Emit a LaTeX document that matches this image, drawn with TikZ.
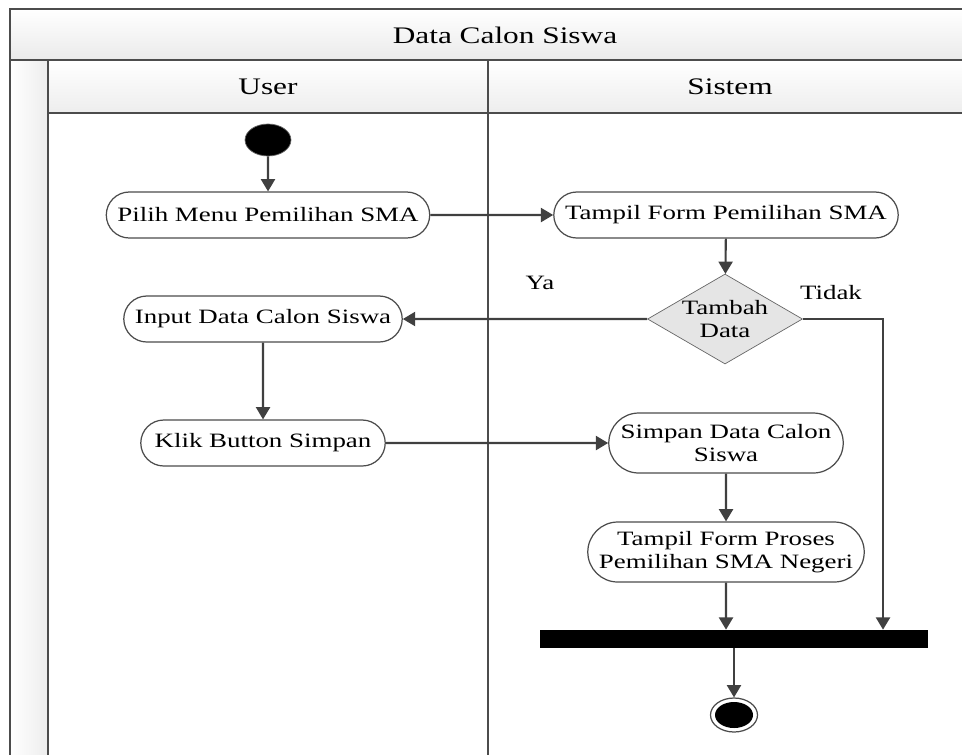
\documentclass[tikz,border=0pt]{standalone}
\usepackage{fontspec}
\setmainfont{Liberation Serif}[FakeStretch=1.32]
\usetikzlibrary{shapes.geometric,shapes.misc,arrows.meta}

\begin{document}
\begin{tikzpicture}[x=0.02cm, y=-0.02cm,
    lane/.style={draw=black!70, line width=1pt},
    act/.style={rounded rectangle, draw=black!70, line width=0.7pt, fill=white,
      minimum height=0.92cm, inner sep=1pt, align=center,
      font=\fontsize{11.6}{13}\selectfont},
    acttall/.style={act, minimum height=1.2cm},
    flow/.style={draw=black!75, line width=1.2pt, -{Triangle[length=7pt,width=8pt]}},
    hdr/.style={font=\fontsize{13.5}{15}\selectfont}]
  \useasboundingbox (0,0) rectangle (962,754);

  % Swimlane frame
  \shade[top color=white, bottom color=black!8] (10,9) rectangle (975,60);
  \shade[top color=white, bottom color=black!7] (48,60) rectangle (975,113);
  \shade[left color=white, right color=black!7] (10,60) rectangle (48,760);
  \draw[lane] (10,760) -- (10,9) -- (975,9);
  \draw[lane] (10,60) -- (975,60);
  \draw[lane] (48,113) -- (975,113);
  \draw[lane] (48,60) -- (48,760);
  \draw[lane] (488,60) -- (488,760);
  \node[hdr] (judul) at (505,35) {Data Calon Siswa};
  \node[hdr] (user) at (268,87) {User};
  \node[hdr] (sistem) at (730,87) {Sistem};

  % Activities
  \node[ellipse, fill=black, draw=black!60, minimum width=0.92cm, minimum height=0.64cm, inner sep=0] (mulai) at (268,140) {};
  \node[act, minimum width=6.54cm] (pilih) at (268,215) {Pilih Menu Pemilihan SMA};
  \node[act, minimum width=6.96cm] (tampil) at (726,215) {Tampil Form Pemilihan SMA};
  \node[diamond, draw=black!60, fill=black!10, aspect=1.72, minimum width=3.1cm, minimum height=1.8cm,
    inner sep=0, align=center, font=\fontsize{11.6}{13}\selectfont] (tambah) at (725,319) {Tambah\\Data};
  \node[act, minimum width=5.64cm] (input) at (263,319) {Input Data Calon Siswa};
  \node[act, minimum width=4.96cm] (klik) at (263,443) {Klik Button Simpan};
  \node[acttall, minimum width=4.76cm] (simpan) at (726,443) {Simpan Data Calon\\Siswa};
  \node[acttall, minimum width=5.6cm] (proses) at (726,552) {Tampil Form Proses\\Pemilihan SMA Negeri};
  \node[fill=black, minimum width=7.76cm, minimum height=0.36cm, inner sep=0] (gabung) at (734,639) {};
  \node[ellipse, draw=black!70, line width=0.7pt, fill=white, minimum width=0.94cm, minimum height=0.68cm, inner sep=0] (selesai) at (734,715) {};
  \fill[black] (selesai.center) ellipse (19 and 13);

  % Guard labels
  \node[font=\fontsize{11.6}{13}\selectfont] (ya) at (540,283) {Ya};
  \node[font=\fontsize{11.6}{13}\selectfont] (tidak) at (831,293) {Tidak};
  \coordinate (belok) at (883,319);

  % Flows
  \draw[flow] (mulai) -- (pilih);
  \draw[flow] (pilih) -- (tampil);
  \draw[flow] (tampil) -- (tambah);
  \draw[flow] (tambah) -- (input);
  \draw[flow] (input) -- (klik);
  \draw[flow] (klik) -- (simpan);
  \draw[flow] (simpan) -- (proses);
  \draw[flow] (proses) -- (proses |- gabung.north);
  \draw[flow] (tambah.east) -- (belok) -- (belok |- gabung.north);
  \draw[flow] (gabung) -- (selesai);
\end{tikzpicture}
\end{document}
